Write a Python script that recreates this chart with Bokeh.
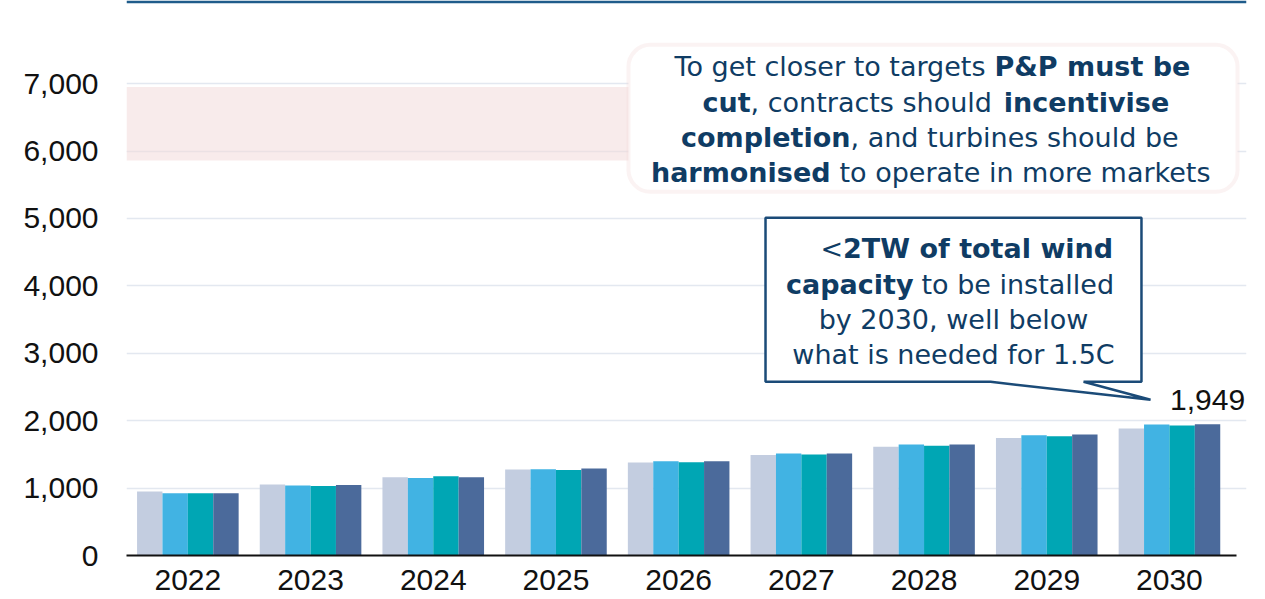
import numpy as np
from bokeh.plotting import figure
from bokeh.models import (Range1d, FixedTicker, NumeralTickFormatter, BoxAnnotation,
                          Label, LabelSet, ColumnDataSource)
from bokeh.embed import file_html
from bokeh.resources import INLINE
from bokeh.core.properties import value

# ---------------- data ----------------
years = ["2022", "2023", "2024", "2025", "2026", "2027", "2028", "2029", "2030"]
series_1 = [950, 1055, 1160, 1275, 1380, 1490, 1615, 1745, 1885]
series_2 = [925, 1040, 1150, 1280, 1400, 1515, 1645, 1785, 1945]
series_3 = [925, 1030, 1175, 1270, 1385, 1500, 1630, 1770, 1930]
series_4 = [925, 1045, 1160, 1290, 1400, 1515, 1645, 1795, 1949]
y_ticks = [0, 1000, 2000, 3000, 4000, 5000, 6000, 7000]
target_range = [5860, 6950]

# ---------------- styles ----------------
series_colors = ["#C3CDE0", "#41B3E3", "#00A6B4", "#4B6A9B"]
NAVY = "#0F3C64"
BOX_NAVY = "#1B4B78"
PINK_LINE = "#F2D6D8"
TICK_FONT = "Liberation Sans"
NOTE_FONT = "DejaVu Sans"

X_END = 9.128
Y_END = 8234

p = figure(width=1265, height=599, output_backend="svg", toolbar_location=None,
           x_range=Range1d(0, X_END), y_range=Range1d(0, Y_END),
           min_border_left=126, min_border_right=19, min_border_top=0,
           min_border_bottom=44)
p.outline_line_color = None
p.background_fill_color = "white"
p.border_fill_color = "white"

# target band (runs in under the note box)
band = BoxAnnotation(left=0, right=7.0, bottom=target_range[0], top=target_range[1],
                     fill_color="#F3DADA", fill_alpha=0.55, line_color=None,
                     level="underlay")
p.add_layout(band)

# bars
centers = np.arange(len(years)) + 0.5
bar_w = 0.207
for k, (vals, col) in enumerate(zip([series_1, series_2, series_3, series_4], series_colors)):
    src = ColumnDataSource(dict(x=centers + (k - 1.5) * bar_w, top=vals))
    p.vbar(x="x", top="top", width=bar_w, fill_color=col, line_color=None, source=src)

# value label on last bar
lab_src = ColumnDataSource(dict(x=[centers[-1] + 1.5 * bar_w], y=[series_4[-1]],
                                t=[f"{series_4[-1]:,}"]))
p.add_layout(LabelSet(x="x", y="y", text="t", source=lab_src,
                      text_font=value(TICK_FONT), text_font_size="30px",
                      text_color="#111111", text_align="center",
                      text_baseline="bottom", y_offset=14, x_offset=0))

# axes
p.xgrid.visible = False
p.ygrid.ticker = FixedTicker(ticks=y_ticks)
p.ygrid.grid_line_color = "#E3E8F0"
p.ygrid.grid_line_width = 1.5

p.xaxis.ticker = FixedTicker(ticks=list(centers))
p.xaxis.major_label_overrides = {float(c): y for c, y in zip(centers, years)}
p.xaxis.axis_line_color = "#111111"
p.xaxis.axis_line_width = 2
p.xaxis.bounds = (0, 9.05)
p.xaxis.major_tick_line_color = None
p.xaxis.minor_tick_line_color = None
p.xaxis.major_label_text_font = TICK_FONT
p.xaxis.major_label_text_font_size = "30px"
p.xaxis.major_label_text_color = "#111111"
p.xaxis.major_label_standoff = 8

p.yaxis.ticker = FixedTicker(ticks=y_ticks)
p.yaxis.formatter = NumeralTickFormatter(format="0,0")
p.yaxis.axis_line_color = None
p.yaxis.major_tick_line_color = None
p.yaxis.minor_tick_line_color = None
p.yaxis.major_label_text_font = TICK_FONT
p.yaxis.major_label_text_font_size = "30px"
p.yaxis.major_label_text_color = "#111111"
p.yaxis.major_label_standoff = 22

# top rule
top_rule = BoxAnnotation(bottom=Y_END - 40, top=Y_END,
                         fill_color="#1F5C8B", fill_alpha=1, line_color=None)
p.add_layout(top_rule)

# pink rounded note box
pink_box = BoxAnnotation(left=4.091, right=9.055, bottom=5396, top=7577,
                         fill_color="white", fill_alpha=1, line_color=PINK_LINE,
                         line_width=4, border_radius=22)
p.add_layout(pink_box)

# navy callout box with pointer
call_x = [5.208, 8.272, 8.272, 7.800, 8.346, 7.042, 5.208]
call_y = [5010, 5010, 2577, 2577, 2310, 2577, 2577]
p.patch(call_x, call_y, fill_color="white", line_color=BOX_NAVY, line_width=2.5)


def note(x, y, text, bold=False, align="left"):
    p.add_layout(Label(x=x, y=y, text=text, text_font=NOTE_FONT, text_font_size="27px",
                       text_font_style="bold" if bold else "normal", text_color=NAVY,
                       text_align=align, text_baseline="alphabetic", y_offset=10))


# pink box text
note(7.001, 7102, "To get closer to targets", align="right")
note(7.074, 7102, "P&P must be", bold=True)
note(5.086, 6568, "cut", bold=True, align="right")
note(5.086, 6568, ", contracts should")
note(7.150, 6568, "incentivise", bold=True)
note(5.901, 6048, "completion", bold=True, align="right")
note(5.901, 6048, ", and turbines should be")
note(5.738, 5530, "harmonised", bold=True, align="right")
note(5.811, 5530, "to operate in more markets")

# navy box text
note(5.840, 4402, "<", align="right")
note(5.840, 4402, "2TW of total wind", bold=True)
note(6.414, 3868, "capacity", bold=True, align="right")
note(6.479, 3868, "to be installed")
note(6.740, 3349, "by 2030, well below", align="center")
note(6.740, 2834, "what is needed for 1.5C", align="center")

open("out.html", "w").write(file_html(p, INLINE))
